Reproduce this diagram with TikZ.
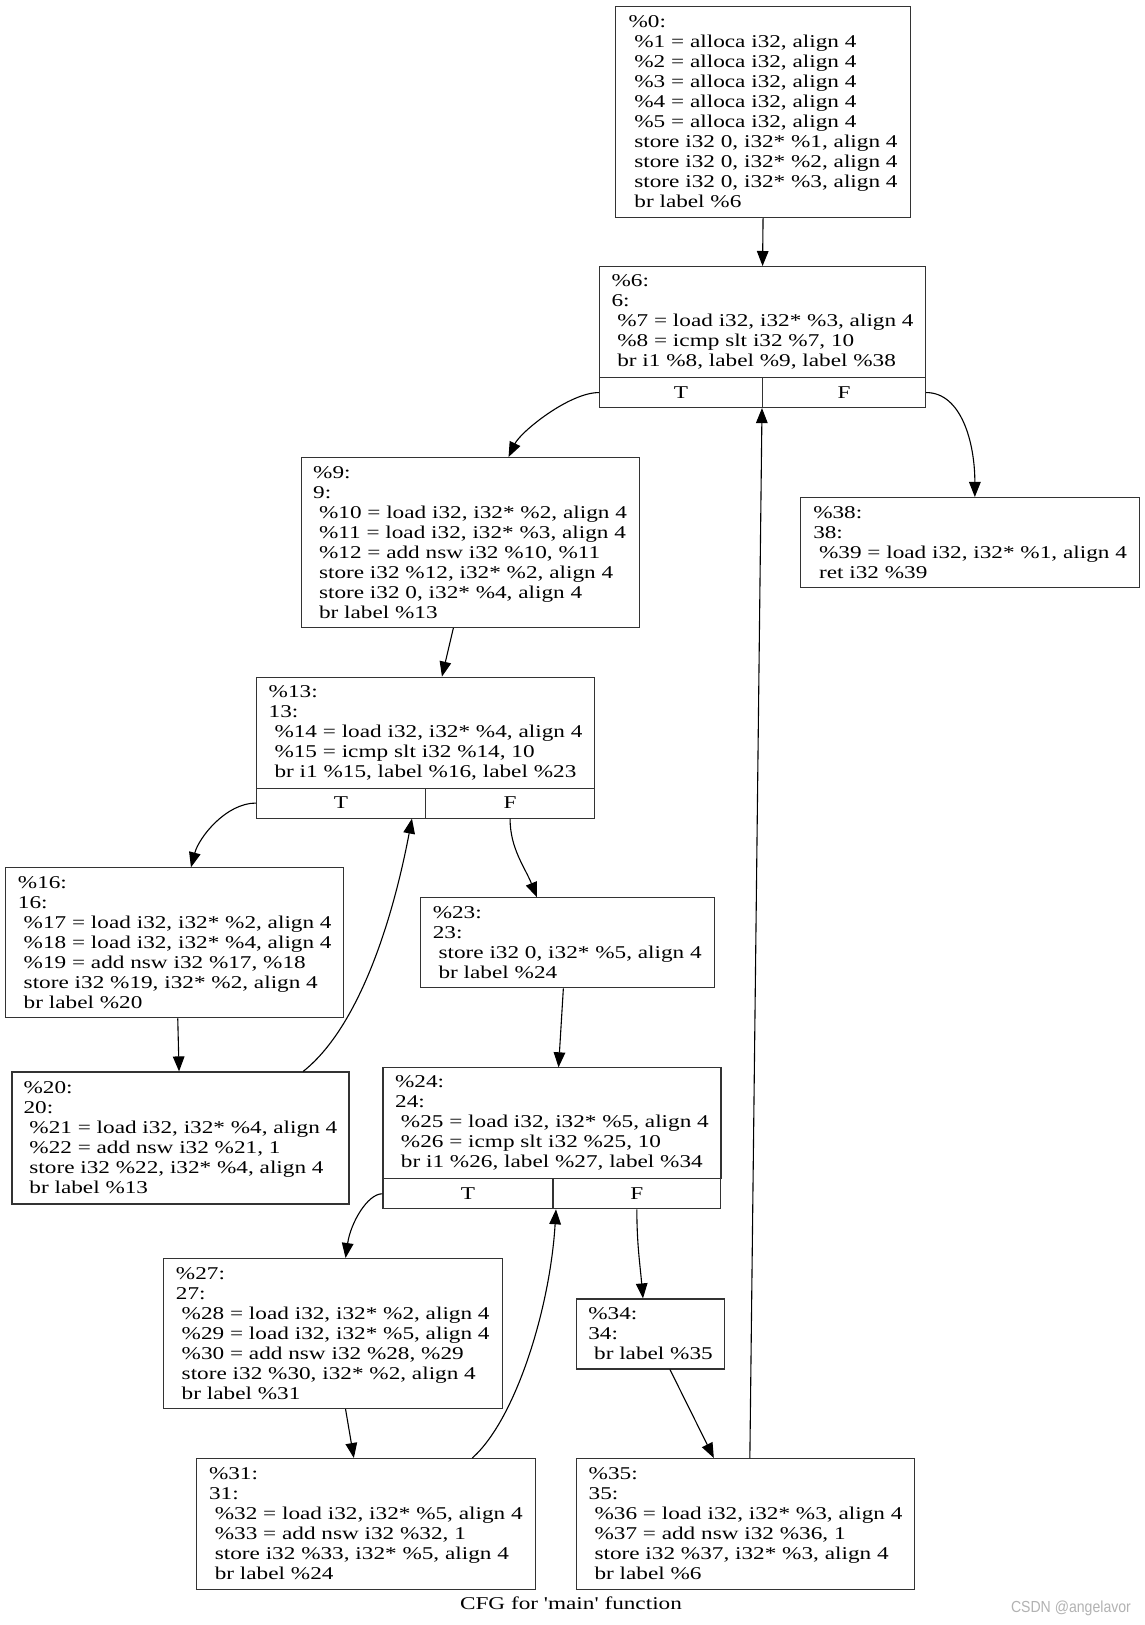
\documentclass[tikz,border=0pt]{standalone}
\usepackage{fontspec}
\setmainfont{Liberation Serif}[FakeStretch=1.29,Ligatures=TeXOff]
\newfontfamily\wmfont{Liberation Sans}[FakeStretch=0.88]
\usetikzlibrary{arrows.meta}

\begin{document}
\begin{tikzpicture}[x=0.5pt,y=-0.5pt,
    >={Triangle[length=7.5pt,width=5.8pt]},
    blk/.style={draw=black!80,line width=0.55pt,anchor=north west,align=left,
      inner sep=0pt,font=\fontsize{9}{10}\selectfont},
    cell/.style={blk,minimum width=#1,minimum height=15pt,align=center},
    flow/.style={->,line width=0.55pt}]
    \useasboundingbox (0,0) rectangle (1144,1625);

    % basic blocks
    \node[blk,minimum width=147.5pt,minimum height=105.5pt] (b0) at (615,6) {\%0:\\
      \ \%1 = alloca i32, align 4\\
      \ \%2 = alloca i32, align 4\\
      \ \%3 = alloca i32, align 4\\
      \ \%4 = alloca i32, align 4\\
      \ \%5 = alloca i32, align 4\\
      \ store i32 0, i32* \%1, align 4\\
      \ store i32 0, i32* \%2, align 4\\
      \ store i32 0, i32* \%3, align 4\\
      \ br label \%6};

    \node[blk,minimum width=163pt,minimum height=55.5pt] (b6) at (599,266) {\%6:\\
      6:\\
      \ \%7 = load i32, i32* \%3, align 4\\
      \ \%8 = icmp slt i32 \%7, 10\\
      \ br i1 \%8, label \%9, label \%38};
    \node[cell=81.5pt] (b6T) at (599,377) {T};
    \node[cell=81.5pt] (b6F) at (762,377) {F};

    \node[blk,minimum width=169pt,minimum height=85pt] (b9) at (300.5,457) {\%9:\\
      9:\\
      \ \%10 = load i32, i32* \%2, align 4\\
      \ \%11 = load i32, i32* \%3, align 4\\
      \ \%12 = add nsw i32 \%10, \%11\\
      \ store i32 \%12, i32* \%2, align 4\\
      \ store i32 0, i32* \%4, align 4\\
      \ br label \%13};

    \node[blk,minimum width=169.5pt,minimum height=45pt] (b38) at (800,497) {\%38:\\
      38:\\
      \ \%39 = load i32, i32* \%1, align 4\\
      \ ret i32 \%39};

    \node[blk,minimum width=169pt,minimum height=55.5pt] (b13) at (256,676.6) {\%13:\\
      13:\\
      \ \%14 = load i32, i32* \%4, align 4\\
      \ \%15 = icmp slt i32 \%14, 10\\
      \ br i1 \%15, label \%16, label \%23};
    \node[cell=84.5pt] (b13T) at (256,787.5) {T};
    \node[cell=84.5pt] (b13F) at (425,787.5) {F};

    \node[blk,minimum width=169pt,minimum height=75pt] (b16) at (5.2,867.3) {\%16:\\
      16:\\
      \ \%17 = load i32, i32* \%2, align 4\\
      \ \%18 = load i32, i32* \%4, align 4\\
      \ \%19 = add nsw i32 \%17, \%18\\
      \ store i32 \%19, i32* \%2, align 4\\
      \ br label \%20};

    \node[blk,minimum width=147pt,minimum height=45pt] (b23) at (419.7,897.3) {\%23:\\
      23:\\
      \ store i32 0, i32* \%5, align 4\\
      \ br label \%24};

    \node[blk,minimum width=168.5pt,minimum height=66pt] (b20) at (11.4,1071.4) {\%20:\\
      20:\\
      \ \%21 = load i32, i32* \%4, align 4\\
      \ \%22 = add nsw i32 \%21, 1\\
      \ store i32 \%22, i32* \%4, align 4\\
      \ br label \%13};

    \node[blk,minimum width=169pt,minimum height=55.5pt] (b24) at (382.4,1067.3) {\%24:\\
      24:\\
      \ \%25 = load i32, i32* \%5, align 4\\
      \ \%26 = icmp slt i32 \%25, 10\\
      \ br i1 \%26, label \%27, label \%34};
    \node[cell=85pt] (b24T) at (382.4,1178.2) {T};
    \node[cell=84pt] (b24F) at (552.3,1178.2) {F};

    \node[blk,minimum width=169.5pt,minimum height=75pt] (b27) at (162.7,1258) {\%27:\\
      27:\\
      \ \%28 = load i32, i32* \%2, align 4\\
      \ \%29 = load i32, i32* \%5, align 4\\
      \ \%30 = add nsw i32 \%28, \%29\\
      \ store i32 \%30, i32* \%2, align 4\\
      \ br label \%31};

    \node[blk,minimum width=74pt,minimum height=35pt] (b34) at (576,1298.4) {\%34:\\
      34:\\
      \ br label \%35};

    \node[blk,minimum width=169.5pt,minimum height=65.5pt] (b31) at (195.8,1458) {\%31:\\
      31:\\
      \ \%32 = load i32, i32* \%5, align 4\\
      \ \%33 = add nsw i32 \%32, 1\\
      \ store i32 \%33, i32* \%5, align 4\\
      \ br label \%24};

    \node[blk,minimum width=169pt,minimum height=65.5pt] (b35) at (576,1458) {\%35:\\
      35:\\
      \ \%36 = load i32, i32* \%3, align 4\\
      \ \%37 = add nsw i32 \%36, 1\\
      \ store i32 \%37, i32* \%3, align 4\\
      \ br label \%6};

    \node[font=\fontsize{9}{10}\selectfont,anchor=base] (cap) at (571,1609) {CFG for 'main' function};
    \node[font=\wmfont\fontsize{8}{9}\selectfont,text=black!30,anchor=base east] (wm) at (1138,1612) {CSDN @angelavor};

    % edges
    \draw[flow] (b0.south) -- (b6.north);
    \draw[flow] (b6T.west) .. controls +(-30,0) and +(12,-25) .. ([xshift=19.25pt]b9.north);
    \draw[flow] (b6F.east) .. controls +(35,0) and +(0,-55) .. ([xshift=2.4pt]b38.north);
    \draw[flow] ([xshift=-8.35pt]b9.south) -- ([xshift=8.2pt]b13.north);
    \draw[flow] (b13T.west) .. controls +(-30,0) and +(8,-30) .. ([xshift=8.1pt]b16.north);
    \draw[flow] (b13F.south) .. controls +(0,30) and +(-12,-30) .. ([xshift=-15.15pt]b23.north);
    \draw[flow] ([xshift=1.5pt]b16.south) -- ([xshift=-0.7pt]b20.north);
    \draw[flow] ([xshift=61.35pt]b20.north) .. controls +(52.4,-41.4) and +(-21.4,112.4) .. ([xshift=35.45pt]b13T.south);
    \draw[flow] ([xshift=-1.95pt]b23.south) -- ([xshift=3.3pt]b24.north);
    \draw[flow] (b24T.west) .. controls +(-15,0) and +(5,-35) .. ([xshift=6.4pt]b27.north);
    \draw[flow] (b24F.south) .. controls +(0,35) and +(-3,-35) .. ([xshift=-3.8pt]b34.north);
    \draw[flow] ([xshift=6.4pt]b27.south) -- ([xshift=-6pt]b31.north);
    \draw[flow] ([xshift=53.2pt]b31.north) .. controls +(43,-38) and +(-6,100) .. ([xshift=1.85pt]b24F.south west);
    \draw[flow] ([xshift=9.7pt]b34.south) -- ([xshift=-15.85pt]b35.north);
    \draw[flow] ([xshift=2.15pt]b35.north) -- (b6F.south west);

  \end{tikzpicture}
\end{document}
